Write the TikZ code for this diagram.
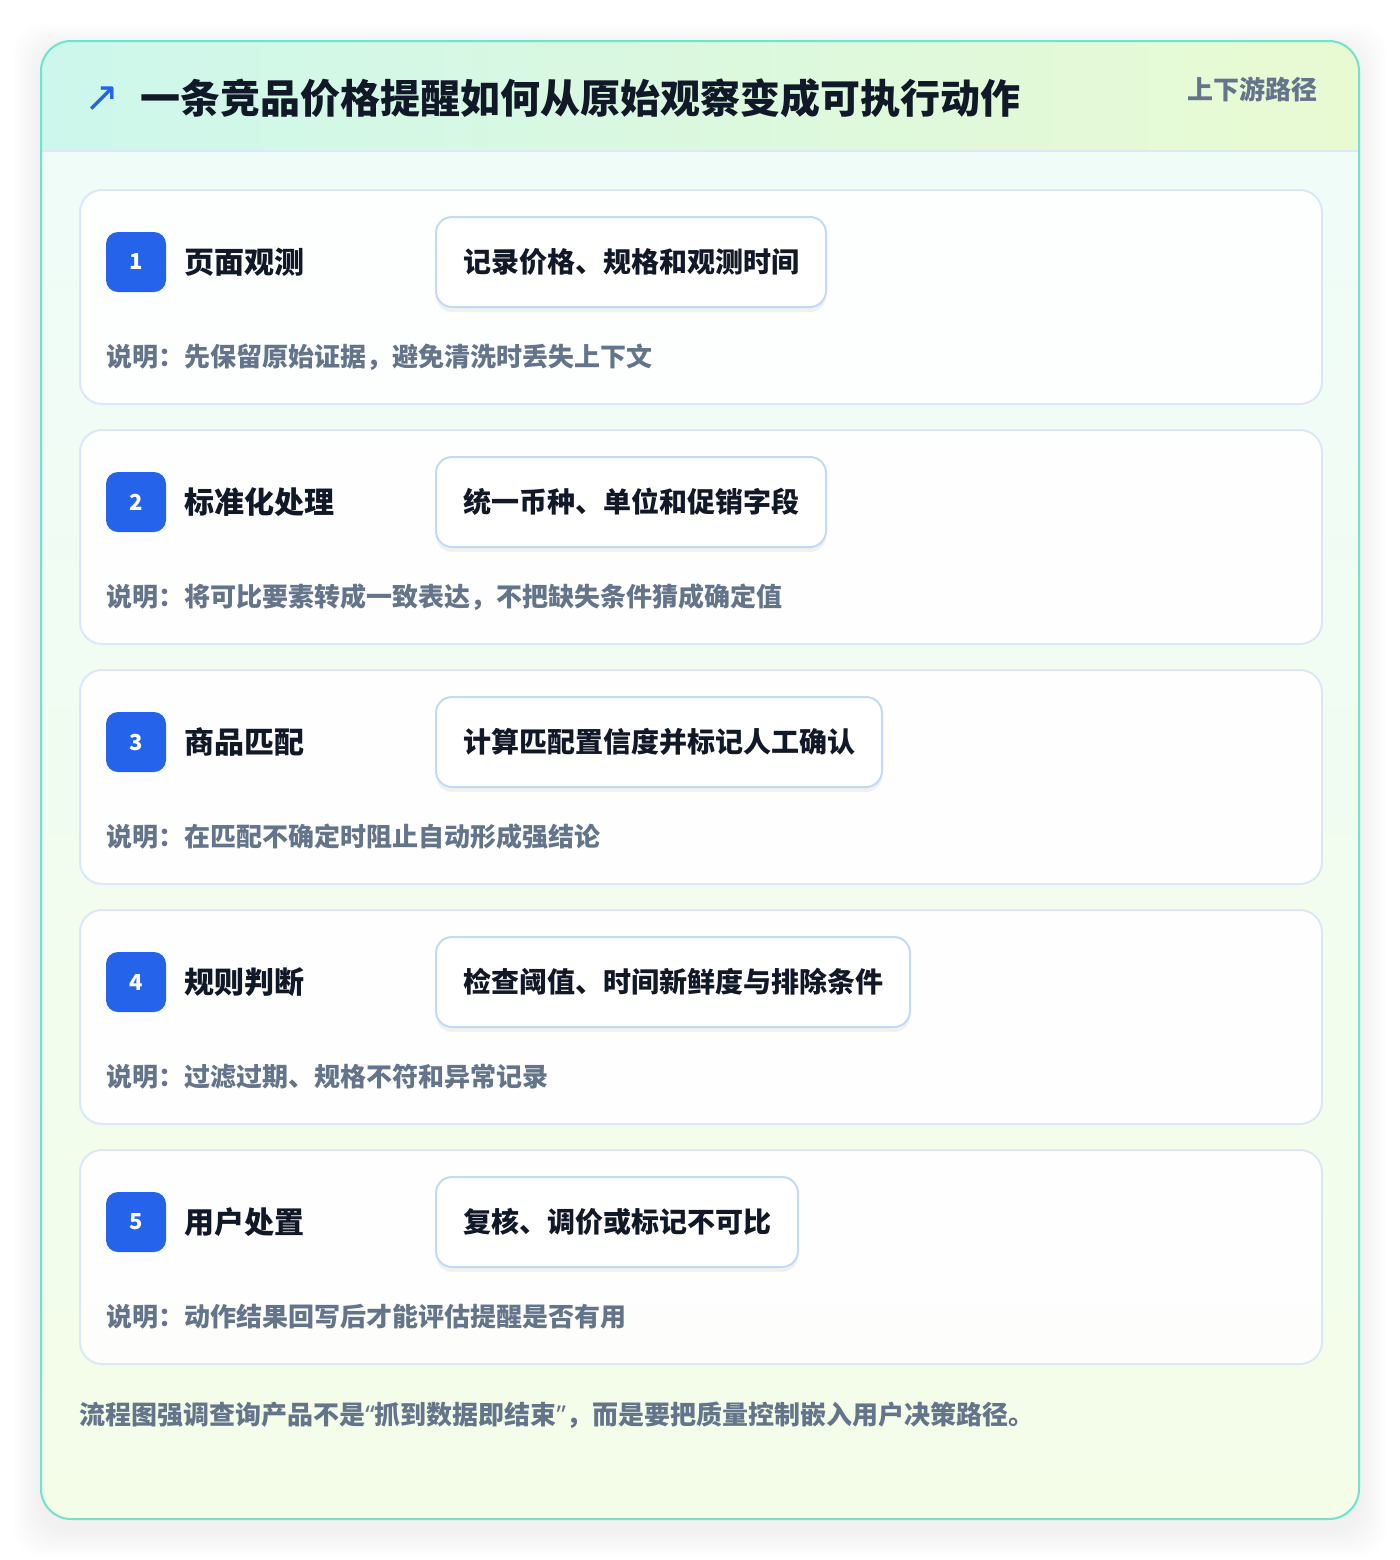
\documentclass[tikz,border=0pt]{standalone}
\usepackage{fontspec}
\setmainfont{Noto Sans CJK SC}
\newfontfamily\symfont{DejaVu Sans}
\newfontfamily\latinfont{Noto Sans}
\usepackage{xcolor}
\usepackage{tikz}
\usetikzlibrary{positioning, shadows}

\definecolor{cardline}{HTML}{DCE7F7}
\definecolor{pillline}{HTML}{C3D9F6}
\definecolor{badgeblue}{HTML}{2563EB}
\definecolor{inkdark}{HTML}{111827}
\definecolor{inkgray}{HTML}{64748B}
\definecolor{frameteal}{HTML}{6EE3CF}
\definecolor{headleft}{HTML}{CDF7EC}
\definecolor{headright}{HTML}{E9FAD2}
\definecolor{bodytop}{HTML}{EFFCF8}
\definecolor{bodybottom}{HTML}{F4FDE8}

\tikzset{
    card/.style={draw=cardline, line width=1pt, fill=white, fill opacity=0.9, rounded corners=11pt,
        minimum width=621pt, minimum height=107pt, anchor=north west, inner sep=0pt},
    badge/.style={fill=badgeblue, text=white, rounded corners=6pt, minimum size=30pt, inner sep=0pt,
        font=\fontsize{11pt}{13pt}\selectfont\bfseries},
    steptitle/.style={text=inkdark, inner sep=0pt, font=\fontsize{15pt}{18pt}\selectfont\bfseries},
    pill/.style={draw=pillline, line width=1pt, fill=white, rounded corners=8pt, anchor=west,
        minimum height=45pt, inner xsep=13.5pt, text=inkdark,
        font=\fontsize{14pt}{17pt}\selectfont\bfseries,
        drop shadow={shadow xshift=0pt, shadow yshift=-2.5pt, opacity=0.05, fill=black}},
    note/.style={anchor=west, inner sep=0pt, text=inkgray, font=\fontsize{13pt}{16pt}\selectfont\bfseries}
}

\begin{document}
\begin{tikzpicture}[x=0.5pt, y=-0.5pt]
        \useasboundingbox (0,0) rectangle (1400,1560);
        \fill[white] (0,0) rectangle (1400,1560);

        % Frame
        \foreach \s in {2,4,...,28}
            \fill[black, opacity=0.005, rounded corners=15pt] (41-\s,51-\s) rectangle (1359+\s,1529+\s);
        \begin{scope}
            \clip[rounded corners=15pt] (41,41) rectangle (1359,1519);
            \shade[top color=bodytop, bottom color=bodybottom] (41,151) rectangle (1359,1519);
            \shade[left color=headleft, right color=headright] (41,41) rectangle (1359,151);
            \draw[cardline, line width=1pt] (41,151) -- (1359,151);
        \end{scope}
        \draw[frameteal, line width=1pt, rounded corners=15pt] (41,41) rectangle (1359,1519);

        % Header
        \node (icon) [anchor=center, inner sep=0pt, text=badgeblue, font=\fontsize{21pt}{24pt}\selectfont\symfont] at (102,99) {↗};
        \node (title) [anchor=west, inner sep=0pt, text=inkdark, font=\fontsize{20pt}{24pt}\selectfont\bfseries] at (140,98) {一条竞品价格提醒如何从原始观察变成可执行动作};
        \node (route) [anchor=east, inner sep=0pt, text=inkgray, font=\fontsize{13pt}{16pt}\selectfont\bfseries] at (1318,89) {上下游路径};

        % Step 1
        \node (card1) [card] at (79,189) {};
        \node (badge1) [badge] at (136,262) {1};
        \node (title1) [steptitle, right=9pt of badge1] {页面观测};
        \node (pill1) [pill] at (435,262) {记录价格、规格和观测时间};
        \node (note1) [note] at (106,357) {说明：先保留原始证据，避免清洗时丢失上下文};

        % Step 2
        \node (card2) [card] at (79,429) {};
        \node (badge2) [badge] at (136,502) {2};
        \node (title2) [steptitle, right=9pt of badge2] {标准化处理};
        \node (pill2) [pill] at (435,502) {统一币种、单位和促销字段};
        \node (note2) [note] at (106,597) {说明：将可比要素转成一致表达，不把缺失条件猜成确定值};

        % Step 3
        \node (card3) [card] at (79,669) {};
        \node (badge3) [badge] at (136,742) {3};
        \node (title3) [steptitle, right=9pt of badge3] {商品匹配};
        \node (pill3) [pill] at (435,742) {计算匹配置信度并标记人工确认};
        \node (note3) [note] at (106,837) {说明：在匹配不确定时阻止自动形成强结论};

        % Step 4
        \node (card4) [card] at (79,909) {};
        \node (badge4) [badge] at (136,982) {4};
        \node (title4) [steptitle, right=9pt of badge4] {规则判断};
        \node (pill4) [pill] at (435,982) {检查阈值、时间新鲜度与排除条件};
        \node (note4) [note] at (106,1077) {说明：过滤过期、规格不符和异常记录};

        % Step 5
        \node (card5) [card] at (79,1149) {};
        \node (badge5) [badge] at (136,1222) {5};
        \node (title5) [steptitle, right=9pt of badge5] {用户处置};
        \node (pill5) [pill] at (435,1222) {复核、调价或标记不可比};
        \node (note5) [note] at (106,1317) {说明：动作结果回写后才能评估提醒是否有用};

        % Footer
        \node (footer) [note] at (79,1415) {流程图强调查询产品不是{\latinfont\bfseries “}抓到数据即结束{\latinfont\bfseries ”}，而是要把质量控制嵌入用户决策路径。};
    \end{tikzpicture}
\end{document}
